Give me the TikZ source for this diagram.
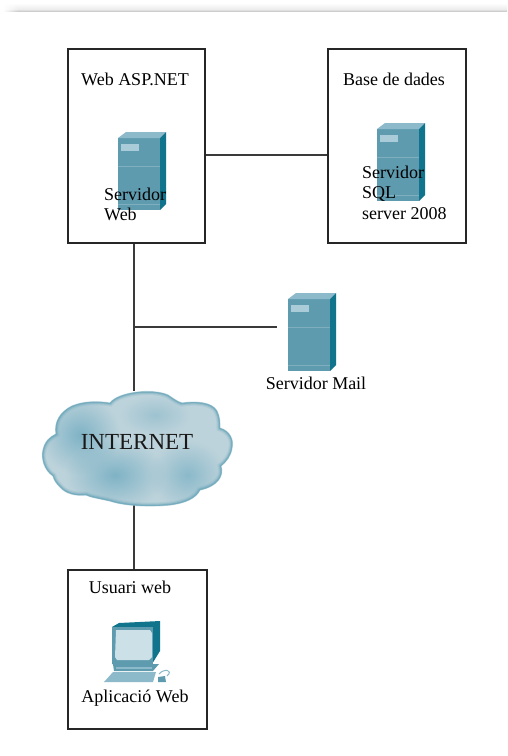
\documentclass[tikz,border=0pt]{standalone}
\usepackage{fontspec}
\setmainfont{Liberation Serif}
\usetikzlibrary{calc,fadings}
\definecolor{srvfront}{HTML}{5F9BAF}
\definecolor{srvside}{HTML}{0F748C}
\definecolor{srvtop}{HTML}{8DBACA}
\definecolor{srvlight}{HTML}{A9CCD8}
\definecolor{srvline}{HTML}{7FAEBF}
\definecolor{cloudedge}{HTML}{6FA9BC}
\definecolor{cloudfill}{HTML}{BDD3DB}
\definecolor{cloudblot}{HTML}{7FB3C6}
\definecolor{wire}{HTML}{3A3A3A}
\tikzfading[name=softblot,inner color=transparent!0,outer color=transparent!100]
\tikzset{
  x=1pt,y=-1pt,
  box/.style={draw=black!85,line width=1.1pt,fill=white,inner sep=0pt},
  wireline/.style={draw=wire,line width=1.3pt},
  label/.style={font=\fontsize{18}{20.7}\selectfont,inner sep=0pt,text=black,align=left},
  blot/.style={fill=cloudblot,path fading=softblot},
  server/.pic={
    \fill[srvfront] (0,6) -- (42,6) -- (42,78) -- (0,78) -- cycle;
    \fill[srvtop] (0,6) -- (8,0) -- (48,0) -- (42,6) -- cycle;
    \fill[srvside] (42,6) -- (48,0) -- (48,72) -- (42,78) -- cycle;
    \fill[srvlight] (3,12) rectangle (21,19);
    \draw[srvline,line width=.7pt] (0,34) -- (42,34);
    \draw[srvline,line width=.7pt] (0,72) -- (42,72);
  },
  computer/.pic={
    \fill[srvside] (0,0) -- (7,-4) -- (48,-6) -- (48,24) -- (40,37) -- (0,37) -- cycle;
    \fill[srvfront] (0,0) -- (41,0) -- (41,37) -- (0,37) -- cycle;
    \fill[srvtop!45!white] (4,3) -- (38,3) -- (40,6) -- (40,30) -- (37,33) -- (5,33) -- (3,30) -- cycle;
    \fill[srvfront] (1,37) -- (47,37) -- (41,44) -- (2,44) -- cycle;
    \fill[srvtop] (4,40) rectangle (40,41.5);
    \fill[srvtop] (-8,55) -- (1,45) -- (44,45) -- (41,55) -- cycle;
    \fill[srvfront] (46,50) -- (53,49) -- (54,55) -- (46,55) -- cycle;
    \draw[srvtop,line width=1pt] (47,47) .. controls (52,41) and (62,43) .. (55,49);
  }
}
\begin{document}
\begin{tikzpicture}
\useasboundingbox (0,0) rectangle (507,756);
\fill[white] (0,0) rectangle (507,756);
% page shadow
\shade[top color=white,bottom color=black!7] (4,3) rectangle (507,9);
\shade[top color=black!7,bottom color=black!24] (4,9) rectangle (507,11.8);
\fill[white,path fading=east] (3,2) rectangle (18,12.5);

% boxes
\node[box,minimum width=137pt,minimum height=194pt] (web) at (136.5,146) {};
\node[box,minimum width=138pt,minimum height=194pt] (db) at (397,146) {};
\node[box,minimum width=139pt,minimum height=159pt] (user) at (137.5,649.5) {};

% connector anchors
\coordinate (wirex) at (134,327);
\coordinate (wirey) at (205,155);
\node[inner sep=0pt,minimum width=70pt,minimum height=78pt] (mail) at (312,332) {};
\node[inner sep=0pt,minimum width=192pt,minimum height=114pt] (cloud) at (137,448) {};

% connectors
\draw[wireline] (web.south -| wirex) -- (cloud.north -| wirex);
\draw[wireline] (cloud.south -| wirex) -- (user.north -| wirex);
\draw[wireline] (wirex) -- (mail.west |- wirex);
\draw[wireline] (web.east |- wirey) -- (db.west |- wirey);

% cloud
\def\cloudoutline{(110,403)
  .. controls (118,392) and (152,388) .. (168,395)
  .. controls (174,399) and (178,402) .. (182,403)
  .. controls (196,401) and (212,402) .. (217,411)
  .. controls (220,417) and (220,423) .. (220,428)
  .. controls (230,431) and (234,440) .. (232,448)
  .. controls (231,456) and (226,462) .. (221,466)
  .. controls (224,476) and (218,486) .. (200,490)
  .. controls (196,498) and (186,503) .. (170,505)
  .. controls (150,507) and (125,506) .. (110,501)
  .. controls (96,498) and (90,497) .. (86,495)
  .. controls (76,496) and (66,494) .. (60,487)
  .. controls (56,483) and (54,480) .. (53,476)
  .. controls (44,470) and (41,458) .. (43,450)
  .. controls (45,441) and (50,437) .. (56,434)
  .. controls (54,422) and (60,412) .. (72,406)
  .. controls (84,401) and (98,401) .. (110,403) -- cycle}
\fill[cloudfill] \cloudoutline;
\begin{scope}
  \clip \cloudoutline;
  \fill[blot] (40,395) rectangle (120,475);
  \fill[blot] (65,440) rectangle (165,510);
  \fill[blot,opacity=.8] (150,440) rectangle (225,510);
  \fill[blot,opacity=.5] (120,395) rectangle (190,435);
  \draw[cloudedge,line width=7pt,opacity=.18] \cloudoutline;
  \draw[cloudedge,line width=4.5pt,opacity=.35] \cloudoutline;
  \draw[cloudedge,line width=2.5pt,opacity=.7] \cloudoutline;
\end{scope}
\draw[cloudedge,line width=1.2pt,opacity=.35] \cloudoutline;
\node[inner sep=0pt,font=\fontsize{23}{25}\selectfont,text=black!90] (inet) at (137,441.5) {INTERNET};

% icons
\pic at (118,132) {server};
\pic at (377,123) {server};
\pic at (288,293) {server};
\pic at (112,627) {computer};

% labels
\node[label] (t1) at (135,79) {Web ASP.NET};
\node[label,anchor=north west] (t2) at (104,187.5) {Servidor\\Web};
\node[label] (t3) at (394,79) {Base de dades};
\node[label,anchor=north west] (t4) at (362,165.5) {Servidor\\SQL\\server 2008};
\node[label] (t5) at (316,383) {Servidor Mail};
\node[label] (t6) at (130,587) {Usuari web};
\node[label] (t7) at (135,698) {Aplicació Web};
\end{tikzpicture}
\end{document}
